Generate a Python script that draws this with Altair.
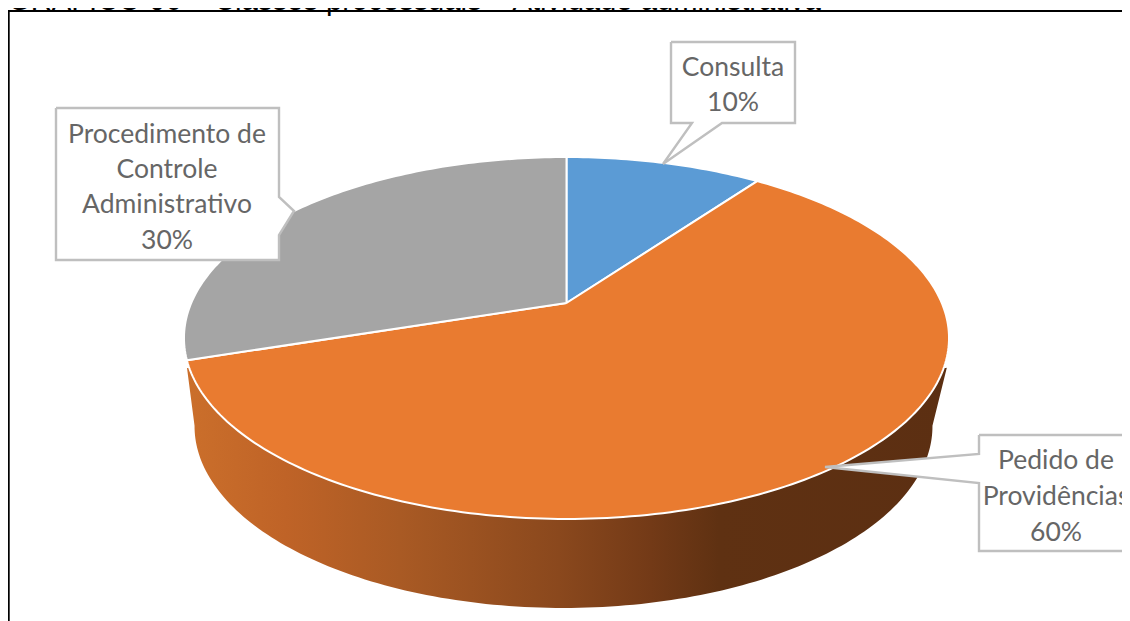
import math
import altair as alt
import pandas as pd

categories = ["Consulta", "Pedido de Providências", "Procedimento de Controle Administrativo"]
shares = [10, 60, 30]
colors = ["#5B9BD5", "#E97B30", "#A5A5A5"]
label_lines = [["Consulta", "10%"], ["Pedido de", "Providências", "60%"],
               ["Procedimento de", "Controle", "Administrativo", "30%"]]
title_text = "GRÁFICO 06 – Classes processuais – Atividade administrativa"

# layout (picture pixels, fed through the x/y scales)
K = 0.1934
TOP = dict(CX=566.5, A=375.3, B=174.2, Y0=303.0)
LOW = dict(CX=563.5, A=362.0, B=175.0, Y0=391.0)
label_cx = [733, 1056, 167]
label_y = [[68, 103], [461, 497, 533], [135, 170, 205, 241]]
callouts = [
    [(671, 42), (795, 42), (795, 123), (722, 123), (663, 164), (692, 123), (671, 123)],
    [(979, 435), (1150, 435), (1150, 551), (979, 551), (979, 483), (825, 467), (979, 454)],
    [(56, 108), (279, 108), (279, 197), (294, 211), (279, 235), (279, 260), (56, 260)],
]

x_scale = alt.Scale(domain=[8, 1122], nice=False, zero=False)
y_scale = alt.Scale(domain=[621, 8], nice=False, zero=False)
X = alt.X("x:Q", scale=x_scale, axis=None)
Y = alt.Y("y:Q", scale=y_scale, axis=None)


def project(deg, p):
    t = math.radians(deg)
    w = 1 + K * math.cos(t)
    return p["CX"] + p["A"] * math.sin(t) / w, p["Y0"] - p["B"] * math.cos(t) / w


def polygon(points, **mark):
    df = pd.DataFrame([{"x": a, "y": b, "o": i} for i, (a, b) in enumerate(points + points[:1])])
    return alt.Chart(df).mark_line(interpolate="linear", **mark).encode(x=X, y=Y, order="o:Q")


# side wall
wall_y = 368
pts = [(947, wall_y, 367)]
for d in range(101, 260):
    a, b = project(d, LOW)
    pts.append((a, wall_y, b))
pts.append((187, wall_y, 368))
wall_df = pd.DataFrame(pts, columns=["x", "y", "y2"]).sort_values("x")
wall = alt.Chart(wall_df).mark_area(
    interpolate="linear",
    color=alt.Gradient(
        gradient="linear", x1=0, x2=1, y1=0, y2=0,
        stops=[
            alt.GradientStop(offset=0.0, color="#CB6F2B"),
            alt.GradientStop(offset=0.13, color="#BF6327"),
            alt.GradientStop(offset=0.28, color="#A95A24"),
            alt.GradientStop(offset=0.49, color="#8A481D"),
            alt.GradientStop(offset=0.61, color="#733A17"),
            alt.GradientStop(offset=0.70, color="#5F3112"),
            alt.GradientStop(offset=1.0, color="#5C2F12"),
        ],
    ),
).encode(x=X, y=Y, y2=alt.Y2("y2:Q"))

# top slices
layers = [wall]
start = 0.0
for share, col in zip(shares, colors):
    end = start + share * 3.6
    n = int(end - start)
    rim = [project(start + (end - start) * i / n, TOP) for i in range(n + 1)]
    layers.append(polygon([(TOP["CX"], TOP["Y0"])] + rim, fill=col, stroke="white", strokeWidth=2))
    start = end

# callouts
for c in callouts:
    layers.append(polygon(c, fill="white", stroke="#BFBFBF", strokeWidth=2.4))

# labels
rows = []
for cx, lines, ys in zip(label_cx, label_lines, label_y):
    for line, yy in zip(lines, ys):
        rows.append({"x": cx, "y": yy, "t": line})
layers.append(
    alt.Chart(pd.DataFrame(rows))
    .mark_text(font="Lato", fontSize=26.5, color="#666666", align="center", baseline="middle")
    .encode(x=X, y=Y, text="t:N")
)

# frame
frame_df = pd.DataFrame({"x": [1140, 8.8, 8.8], "y": [11, 11, 630], "o": [0, 1, 2]})
layers.append(
    alt.Chart(frame_df).mark_line(color="black", strokeWidth=1.8, clip=False).encode(x=X, y=Y, order="o:Q")
)

# title, cut by the top of the page as in the reference
layers.append(
    alt.Chart(pd.DataFrame({"x": [8], "y": [9.5], "t": [title_text]}))
    .mark_text(font="Liberation Sans", fontSize=29.2, color="black", align="left", baseline="alphabetic")
    .encode(x=X, y=Y, text="t:N")
)

chart = (
    alt.layer(*layers)
    .properties(width=1114, height=613, padding=0,
                autosize=alt.AutoSizeParams(type="none"))
    .configure_view(stroke=None)
)
chart.save("out.html", embed_options={"renderer": "svg", "actions": False})
